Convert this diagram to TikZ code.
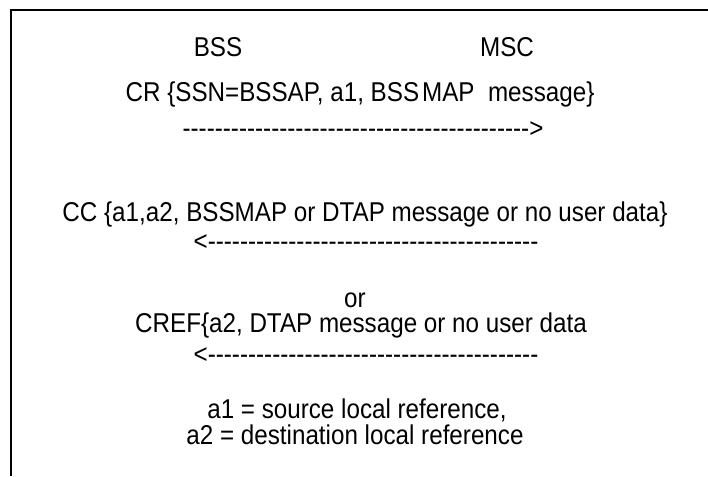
\documentclass[tikz,border=0pt]{standalone}
\usepackage{fontspec}
\newfontfamily\msgfont{Liberation Sans}[FakeStretch=0.89]
\newcommand\dashrun[1]{\foreach \k in {1,...,#1}{-}}

\begin{document}
\begin{tikzpicture}[x=1pt, y=-1pt,
    every node/.style={font=\msgfont\fontsize{27.2}{30}\selectfont, inner sep=0pt, anchor=base},
    borderline/.style={line width=2pt}]

      \useasboundingbox (0,0) rectangle (708,476);
      \draw[borderline] (11,476) -- (11,10) -- (708,10);

      \node (bss) at (218,57) {BSS};
      \node (msc) at (507,57) {MSC};

      \node (cr) at (360,102) {CR \{SSN=BSSAP, a1, BSS\kern3pt MAP~ message\}};
      \node (crline) at (363,137) {\dashrun{43}>};

      \node (cc) at (365,221) {CC \{a1,a2, BSSMAP or DTAP message or no user data\}};
      \node (ccline) at (366,250) {<\dashrun{41}};

      \node (or) at (355,307) {or};
      \node (cref) at (361,332) {CREF\{a2, DTAP message or no user data};
      \node (crefline) at (366,363) {<\dashrun{41}};

      \node (refa) at (357,418) {a1 = source local reference,};
      \node (refb) at (355,444) {a2 = destination local reference};
    \end{tikzpicture}
\end{document}
